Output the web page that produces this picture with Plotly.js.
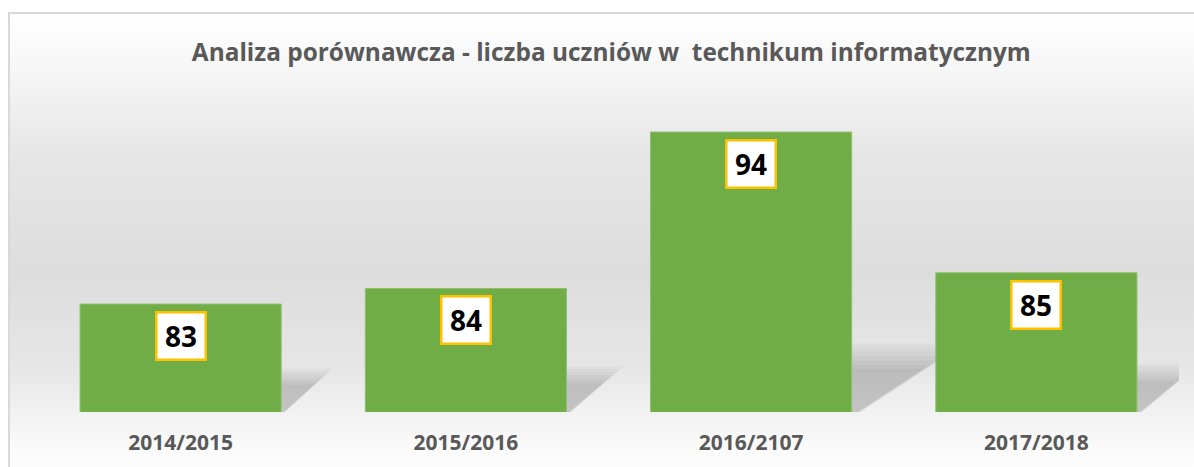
<!DOCTYPE html>
<html>
<head>
<meta charset="utf-8">
<script src="https://cdn.plot.ly/plotly-3.0.1.min.js"></script>
<style>
  html, body { margin: 0; padding: 0; background: #ffffff; }
  #frame {
    position: absolute; left: 8px; top: 12px; width: 1200px; height: 470px;
    border-top: 2px solid #d9d9d9; border-left: 2px solid #d9d9d9;
    background: linear-gradient(to bottom, #ffffff 0%, #f6f6f6 12%, #e6e6e6 30%, #dddddd 55%, #e6e6e6 75%, #fafafa 92%, #ffffff 100%);
  }
  #chart { position: absolute; left: 0; top: 0; width: 1194px; height: 467px; }
</style>
</head>
<body>
<div id="frame"></div>
<div id="chart"></div>
<script>
const categories = ["2014/2015", "2015/2016", "2016/2107", "2017/2018"];
const students = [83, 84, 94, 85];
const chartTitle = "Analiza porównawcza - liczba uczniów w  technikum informatycznym";

const barWidth = 0.705;
const yMin = 76.1, yMax = 96.05;
const pxPerUnit = 312 / (yMax - yMin);
const pxPerCat = 285;
const FONT = '"Open Sans", "DejaVu Sans", sans-serif';

const annotations = categories.map((c, i) => ({
  x: i, y: students[i], xref: 'x', yref: 'y',
  text: '<b>' + students[i] + '</b>',
  showarrow: false, yanchor: 'top', yshift: -7,
  font: { family: FONT, size: 28, color: '#000000' },
  bgcolor: '#ffffff', bordercolor: '#ffc000', borderwidth: 2.5, borderpad: 3,
  width: 41, height: 39
}));

// soft cast shadows behind bars, derived from each bar's value
const shapes = [];
categories.forEach((c, i) => {
  const r = i + barWidth / 2;
  const hPx = (students[i] - yMin) * pxPerUnit;
  const T = (25 + 0.13 * hPx) / pxPerUnit;       // shadow height (y units)
  const D = (12 + 0.32 * hPx) / pxPerCat;         // shadow reach (x units)
  const n = 7;
  for (let k = 0; k < n; k++) {
    const s = 1.12 - 0.07 * k;
    const t = T * s, d = D * s;
    shapes.push({
      type: 'path', xref: 'x', yref: 'y', layer: 'below',
      path: `M ${r} ${yMin} L ${r} ${yMin + t} L ${r + d} ${yMin + t} L ${r + d * 0.08} ${yMin} Z`,
      fillcolor: 'rgba(0,0,0,0.028)', line: { width: 0 }
    });
  }
});

const trace = {
  type: 'bar',
  x: categories.map((c, i) => i),
  y: students,
  width: barWidth,
  marker: { color: '#70ad47', line: { color: '#8cbf6b', width: 1 } },
  hoverinfo: 'skip'
};

const layout = {
  width: 1194, height: 467,
  paper_bgcolor: 'rgba(0,0,0,0)', plot_bgcolor: 'rgba(0,0,0,0)',
  margin: { l: 38, r: 15, t: 100, b: 55 },
  title: {
    text: '<b>' + chartTitle + '</b>',
    x: 0.512, xref: 'container', xanchor: 'center',
    y: 1 - 52 / 467, yref: 'container', yanchor: 'middle',
    font: { family: FONT, size: 24.4, color: '#595959' }
  },
  xaxis: {
    tickmode: 'array', tickvals: categories.map((c, i) => i),
    ticktext: categories.map(c => '<b>' + c + '</b>'),
    range: [-0.5, categories.length - 0.5],
    showgrid: false, zeroline: false, showline: false,
    ticks: '', ticklabelstandoff: 16,
    tickfont: { family: FONT, size: 21, color: '#595959' }
  },
  yaxis: {
    range: [yMin, yMax], visible: false, showgrid: false, zeroline: false
  },
  annotations: annotations,
  shapes: shapes,
  showlegend: false
};

Plotly.newPlot('chart', [trace], layout, { displayModeBar: false, staticPlot: true });
</script>
</body>
</html>
